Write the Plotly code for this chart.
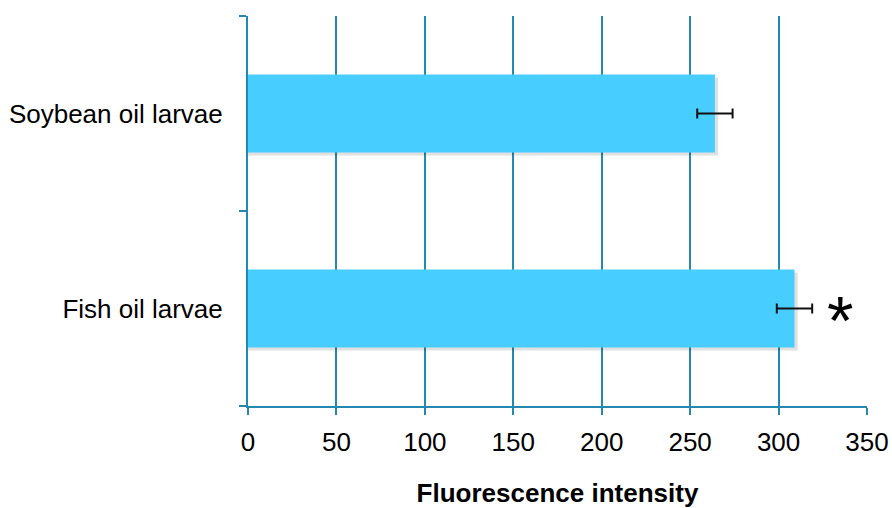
import plotly.graph_objects as go

# Mean fluorescence intensity per larval diet group, with error (± SE)
groups = ["Fish oil larvae", "Soybean oil larvae"]
intensity = [309, 264]
errors = [10, 10]
significance = ["*", ""]

bar_color = "#47CDFF"
line_color = "#2389B0"
font_family = "Liberation Sans, Arial, sans-serif"

fig = go.Figure()

# soft drop shadow behind each bar (slightly right and below)
fig.add_trace(go.Bar(
    y=groups, x=[v + 1.8 for v in intensity], orientation="h",
    width=0.4, offset=-0.2 - 0.016,
    marker=dict(color="rgba(0,0,0,0.12)", line=dict(width=0)),
    hoverinfo="skip", showlegend=False,
))

fig.add_trace(go.Bar(
    y=groups, x=intensity, orientation="h",
    width=0.4,
    marker=dict(color=bar_color, line=dict(width=0)),
    error_x=dict(type="data", array=errors, visible=True,
                 color="#111111", thickness=2, width=5),
    showlegend=False,
))

for g, v, e, s in zip(groups, intensity, errors, significance):
    if s:
        fig.add_annotation(x=v + e + 16, y=g, text=s, showarrow=False,
                           font=dict(size=68, color="#000000", family=font_family),
                           yshift=-11)

fig.update_layout(
    width=892, height=508,
    margin=dict(l=248, r=25, t=16, b=102),
    paper_bgcolor="white", plot_bgcolor="white",
    barmode="overlay",
    font=dict(family=font_family, size=26, color="#000000"),
    xaxis=dict(
        range=[0, 350], dtick=50, tick0=0,
        showgrid=True, gridcolor=line_color, gridwidth=2,
        showline=True, linecolor=line_color, linewidth=2,
        ticks="outside", ticklen=7, tickwidth=2, tickcolor=line_color,
        zeroline=False, automargin=False,
        tickfont=dict(size=26),
        ticklabelstandoff=5,
        title=dict(text="<b>Fluorescence intensity</b>", font=dict(size=26), standoff=28),
    ),
    yaxis=dict(
        type="category", categoryorder="array", categoryarray=groups,
        range=[-0.5, 1.5],
        showgrid=False, automargin=False,
        showline=True, linecolor=line_color, linewidth=2,
        ticks="outside", ticklen=7, tickwidth=2, tickcolor=line_color,
        tickson="boundaries",
        tickfont=dict(size=26),
        ticklabelstandoff=18,
    ),
)

fig.write_html("out.html")
